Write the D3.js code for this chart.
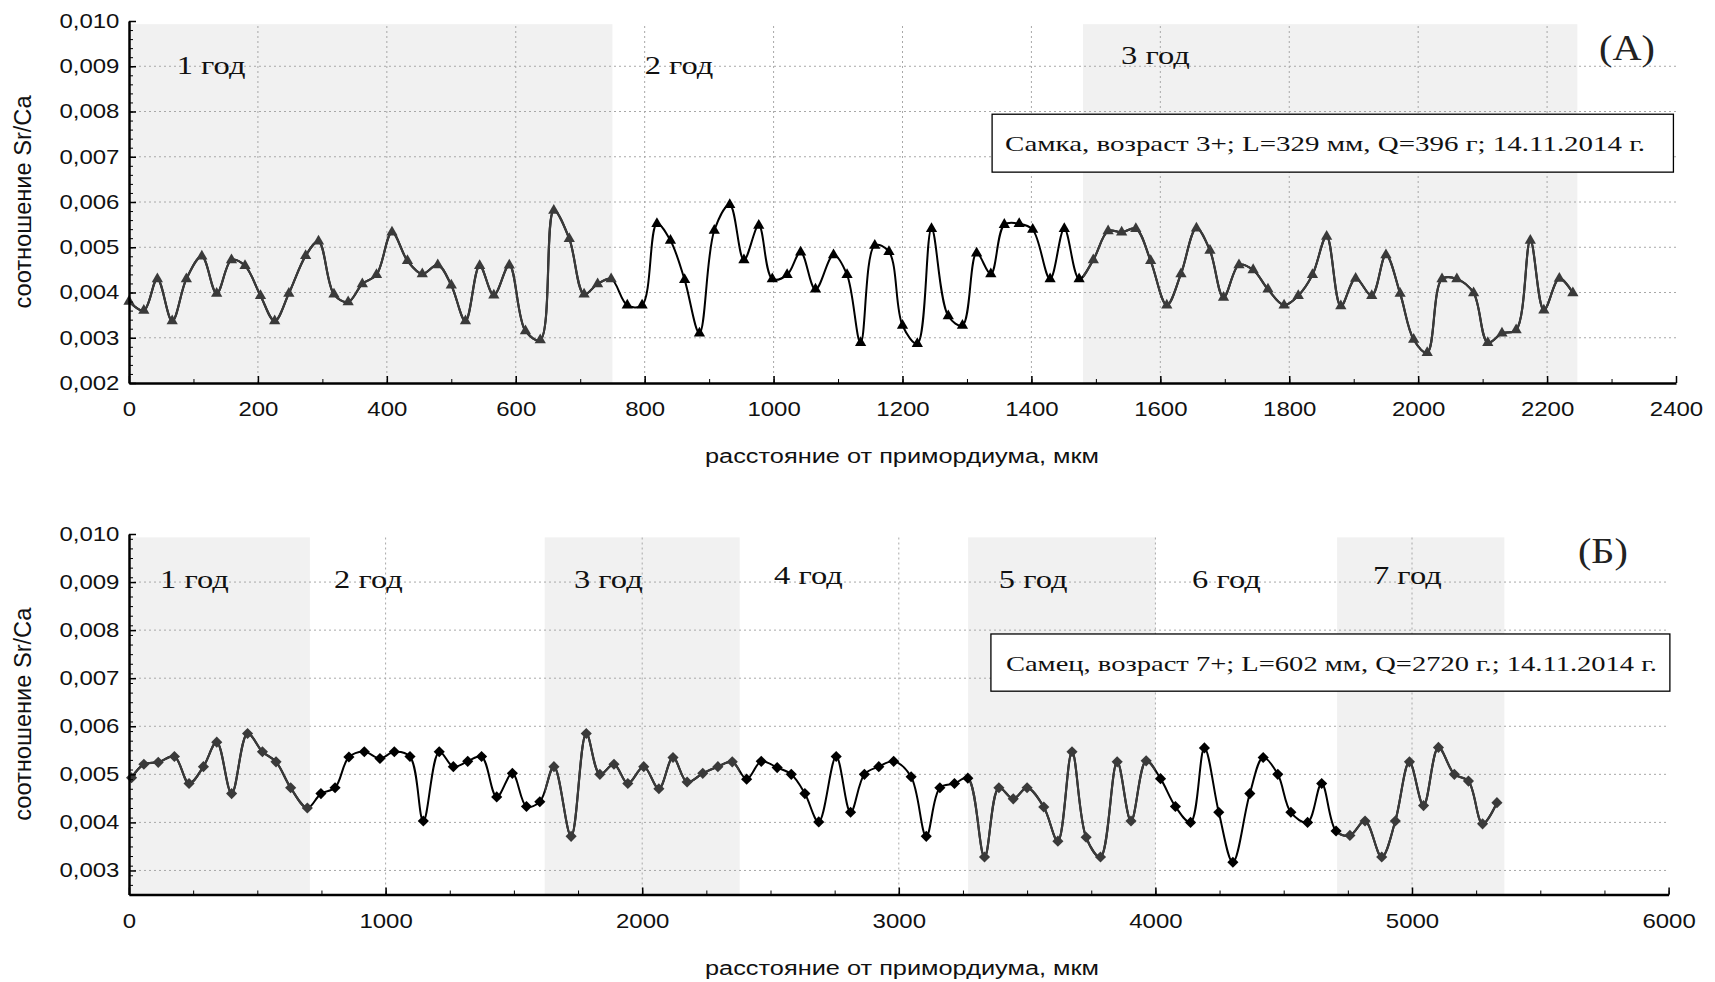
<!DOCTYPE html>
<html>
<head>
<meta charset="utf-8">
<script src="https://cdnjs.cloudflare.com/ajax/libs/d3/7.8.5/d3.min.js"></script>
<style>
  body { margin: 0; background: #fff; }
</style>
</head>
<body>
<div id="chart"></div>
<script>
// Панель А: самка 3+ — расстояние от примордиума (мкм) и Sr/Ca
const distA = [0, 23, 44, 67, 89, 113, 136, 159, 180, 204, 226, 248, 274, 294, 318, 340, 362, 384, 408, 432,
  455, 479, 500, 522, 544, 566, 590, 615, 638, 659, 683, 706, 727, 748, 773, 796, 819, 840, 862, 885,
  908, 932, 954, 977, 998, 1021, 1042, 1065, 1093, 1114, 1135, 1157, 1179, 1200, 1223, 1245, 1271, 1293, 1315, 1337,
  1358, 1381, 1402, 1429, 1451, 1474, 1496, 1519, 1540, 1562, 1585, 1610, 1632, 1656, 1677, 1698, 1722, 1744, 1767, 1792,
  1814, 1836, 1858, 1880, 1903, 1928, 1950, 1972, 1993, 2014, 2037, 2060, 2086, 2108, 2130, 2152, 2174, 2195, 2219, 2240];
const ratioA = [0.0038, 0.0036, 0.0043, 0.00337, 0.0043, 0.0048, 0.00398, 0.00472, 0.00459, 0.00393, 0.00337, 0.00398, 0.00481, 0.00513, 0.00396, 0.00379, 0.00419, 0.00439, 0.00533, 0.0047,
  0.00441, 0.00461, 0.00416, 0.00337, 0.00459, 0.00394, 0.0046, 0.00315, 0.00295, 0.00581, 0.00519, 0.00396, 0.00419, 0.0043, 0.00372, 0.00372, 0.00552, 0.00515, 0.00428, 0.0031,
  0.00537, 0.00594, 0.00472, 0.00548, 0.0043, 0.00439, 0.00489, 0.00407, 0.00483, 0.00439, 0.00289, 0.00504, 0.0049, 0.00327, 0.00287, 0.00541, 0.00348, 0.00327, 0.00487, 0.00441,
  0.0055, 0.00552, 0.00539, 0.0043, 0.00541, 0.0043, 0.00472, 0.00536, 0.00533, 0.00541, 0.0047, 0.00372, 0.00441, 0.00542, 0.00493, 0.00389, 0.00461, 0.0045, 0.00407, 0.00372,
  0.00393, 0.00439, 0.00524, 0.0037, 0.00431, 0.00393, 0.00483, 0.00398, 0.00296, 0.00267, 0.0043, 0.0043, 0.00399, 0.00289, 0.0031, 0.00317, 0.00515, 0.00361, 0.00431, 0.00399];
const yearNamesA = ["1 год", "2 год", "3 год"];
const yearFromA = [0, 750, 1480];
const yearToA = [750, 1480, 2247];
const xTicksA = [0, 200, 400, 600, 800, 1000, 1200, 1400, 1600, 1800, 2000, 2200, 2400];
const yTicksA = [0.002, 0.003, 0.004, 0.005, 0.006, 0.007, 0.008, 0.009, 0.010];
const infoA = "Самка, возраст 3+; L=329 мм, Q=396 г; 14.11.2014 г.";

// Панель Б: самец 7+
const distB = [10, 58, 114, 177, 234, 290, 342, 400, 462, 520, 573, 630, 695, 748, 803, 857, 917, 978, 1034, 1095,
  1147, 1209, 1264, 1320, 1374, 1433, 1494, 1549, 1601, 1656, 1723, 1782, 1835, 1890, 1944, 2006, 2065, 2120, 2175, 2236,
  2295, 2351, 2407, 2464, 2526, 2581, 2634, 2688, 2756, 2812, 2866, 2922, 2980, 3048, 3107, 3160, 3217, 3269, 3334, 3390,
  3446, 3500, 3565, 3620, 3675, 3730, 3786, 3851, 3905, 3964, 4020, 4078, 4137, 4191, 4247, 4302, 4368, 4420, 4477, 4528,
  4593, 4648, 4704, 4758, 4817, 4882, 4935, 4990, 5045, 5103, 5165, 5220, 5275, 5331];
const ratioB = [0.00493, 0.00521, 0.00525, 0.00537, 0.00481, 0.00516, 0.00567, 0.0046, 0.00585, 0.00547, 0.00526, 0.00472, 0.0043, 0.0046, 0.00472, 0.00536, 0.00547, 0.00533, 0.00547, 0.00537,
  0.00403, 0.00547, 0.00516, 0.00527, 0.00537, 0.00453, 0.00502, 0.00433, 0.00443, 0.00516, 0.00371, 0.00585, 0.005, 0.00521, 0.00481, 0.00516, 0.0047, 0.00535, 0.00484, 0.00502,
  0.00516, 0.00526, 0.0049, 0.00527, 0.00514, 0.005, 0.0046, 0.00401, 0.00537, 0.00421, 0.005, 0.00516, 0.00527, 0.00495, 0.00371, 0.00472, 0.00481, 0.00492, 0.00328, 0.00472,
  0.00449, 0.00472, 0.00432, 0.00361, 0.00547, 0.00369, 0.00328, 0.00526, 0.00403, 0.00528, 0.00491, 0.00433, 0.004, 0.00555, 0.00421, 0.00317, 0.0046, 0.00535, 0.005, 0.00421,
  0.004, 0.00481, 0.00382, 0.00373, 0.00403, 0.00328, 0.00403, 0.00526, 0.00435, 0.00556, 0.005, 0.00486, 0.00397, 0.00441];
const yearNamesB = ["1 год", "2 год", "3 год", "4 год", "5 год", "6 год", "7 год"];
const yearFromB = [0, 705, 1620, 2380, 3270, 4000, 4708];
const yearToB = [705, 1620, 2380, 3270, 4000, 4708, 5360];
const xTicksB = [0, 1000, 2000, 3000, 4000, 5000, 6000];
const yTicksB = [0.003, 0.004, 0.005, 0.006, 0.007, 0.008, 0.009, 0.010];
const infoB = "Самец, возраст 7+; L=602 мм, Q=2720 г.; 14.11.2014  г.";

const SANS = "'Liberation Sans', Arial, sans-serif";
const SERIF = "'Liberation Serif', 'Times New Roman', serif";
const SX = 1.2; // исходная картинка растянута по горизонтали
const fmt = d3.formatLocale({ decimal: ",", thousands: " ", grouping: [3], currency: ["", ""] }).format(".3f");

const svg = d3.select("#chart").append("svg")
  .attr("width", 1715)
  .attr("height", 982);

function drawPanel(p) {
  const x = d3.scaleLinear().domain(p.xDomain).range([p.left, p.right]);
  const y = d3.scaleLinear().domain(p.yDomain).range([p.bottom, p.top]);
  const g = svg.append("g");

  const years = p.names.map((n, i) => ({ name: n, from: p.from[i], to: p.to[i], shaded: i % 2 === 0 }));
  const shaded = years.filter(d => d.shaded);

  // серые полосы нечётных лет
  g.selectAll("rect.shade").data(shaded).join("rect")
    .attr("x", d => x(d.from))
    .attr("width", d => x(d.to) - x(d.from))
    .attr("y", y(p.shadeTop))
    .attr("height", y(p.yDomain[0]) - y(p.shadeTop))
    .attr("fill", "#f1f1f1");

  // сетка
  g.selectAll("line.gy").data(p.yTicks.filter(v => v > p.yDomain[0] + 1e-9 && v < 0.00999)).join("line")
    .attr("x1", p.left).attr("x2", p.right)
    .attr("y1", d => y(d)).attr("y2", d => y(d))
    .attr("stroke", "#a8a8a8").attr("stroke-width", 1).attr("stroke-dasharray", "2,3");
  g.selectAll("line.gx").data(p.xTicks.filter(v => v > 0 && v < p.xDomain[1])).join("line")
    .attr("x1", d => x(d)).attr("x2", d => x(d))
    .attr("y1", y(p.yDomain[0])).attr("y2", y(p.shadeTop))
    .attr("stroke", "#a8a8a8").attr("stroke-width", 1).attr("stroke-dasharray", "2,3");

  // годовые подписи
  g.selectAll("text.year").data(years).join("text")
    .attr("transform", (d, i) => `translate(${x(p.yearLabelX[i])},${y(p.yearLabelY[i])}) scale(1.25,1)`)
    .attr("font-family", SERIF).attr("font-size", 26).attr("fill", "#111")
    .text(d => d.name);

  // кривая
  const pts = p.dist.map((d, i) => ({ d, v: p.ratio[i] }));
  const line = d3.line().x(d => x(d.d)).y(d => y(d.v)).curve(d3.curveCatmullRom.alpha(0.5));
  const clipId = "clip-" + p.id;
  svg.append("clipPath").attr("id", clipId)
    .selectAll("rect").data(shaded).join("rect")
    .attr("x", d => x(d.from)).attr("width", d => x(d.to) - x(d.from))
    .attr("y", 0).attr("height", 982);

  g.append("path").datum(pts).attr("d", line)
    .attr("fill", "none").attr("stroke", "#000").attr("stroke-width", 2);
  g.append("path").datum(pts).attr("d", line)
    .attr("clip-path", `url(#${clipId})`)
    .attr("fill", "none").attr("stroke", "#3a3a3a").attr("stroke-width", 2.2);

  const inShade = v => shaded.some(s => v >= s.from && v < s.to);
  g.selectAll("path.mark").data(pts).join("path")
    .attr("transform", d => `translate(${x(d.d)},${y(d.v)}) rotate(${p.markRotate})`)
    .attr("d", d3.symbol().type(p.symbol).size(p.markSize))
    .attr("fill", d => inShade(d.d) ? "#3a3a3a" : "#000");

  // оси
  const yMinor = d3.range(p.yDomain[0], p.yDomain[1] + 1e-7, 0.0002);
  g.append("g").attr("transform", `translate(${p.left},0)`)
    .call(d3.axisLeft(y).tickValues(yMinor).tickSize(-4).tickSizeOuter(0).tickFormat(""))
    .call(a => a.select(".domain").attr("stroke-width", 2.5));
  g.append("g").attr("transform", `translate(${p.left},0)`)
    .call(d3.axisLeft(y).tickValues(p.yTicks).tickSize(-7).tickSizeOuter(0).tickPadding(8).tickFormat(fmt))
    .call(a => a.select(".domain").remove())
    .call(a => a.selectAll("line").attr("stroke-width", 1.5))
    .call(a => a.selectAll("text").attr("font-family", SANS).attr("font-size", 20).attr("fill", "#111")
      .attr("transform", `scale(${SX},1)`));

  const xMinor = d3.range(p.xDomain[0], p.xDomain[1] + 1, p.xMinorStep);
  g.append("g").attr("transform", `translate(0,${p.bottom})`)
    .call(d3.axisBottom(x).tickValues(xMinor).tickSize(-4).tickSizeOuter(0).tickFormat(""))
    .call(a => a.select(".domain").attr("stroke-width", 2.5));
  g.append("g").attr("transform", `translate(0,${p.bottom})`)
    .call(d3.axisBottom(x).tickValues(p.xTicks).tickSize(-7).tickSizeOuter(0).tickPadding(19).tickFormat(d3.format("d")))
    .call(a => a.select(".domain").remove())
    .call(a => a.selectAll("line").attr("stroke-width", 1.5))
    .call(a => a.selectAll("text").attr("font-family", SANS).attr("font-size", 20).attr("fill", "#111")
      .attr("transform", `scale(${SX},1)`));

  // подписи осей
  g.append("text")
    .attr("transform", `translate(31,${(p.top + p.bottom) / 2}) rotate(-90) scale(1.18,1.15)`)
    .attr("text-anchor", "middle").attr("font-family", SANS).attr("font-size", 20).attr("fill", "#111")
    .text("соотношение Sr/Ca");
  g.append("text")
    .attr("x", 902).attr("y", p.bottom + p.xTitleGap)
    .attr("textLength", 394).attr("lengthAdjust", "spacingAndGlyphs")
    .attr("text-anchor", "middle").attr("font-family", SANS).attr("font-size", 20).attr("fill", "#111")
    .text("расстояние от примордиума, мкм");

  // рамка с описанием рыбы
  const bx = x(p.boxX[0]), bw = x(p.boxX[1]) - bx, by = y(p.boxY[0]), bh = y(p.boxY[1]) - by;
  g.append("rect").attr("x", bx).attr("y", by).attr("width", bw).attr("height", bh)
    .attr("fill", "#fff").attr("stroke", "#000").attr("stroke-width", 1.3);
  g.append("text")
    .attr("x", bx + p.boxPad).attr("y", by + bh / 2 + 8)
    .attr("textLength", p.boxTextLen).attr("lengthAdjust", "spacingAndGlyphs")
    .attr("font-family", SERIF).attr("font-size", 22).attr("fill", "#111")
    .text(p.info);

  g.append("text")
    .attr("transform", `translate(${x(p.tagPos[0])},${y(p.tagPos[1])}) scale(1.15,1)`)
    .attr("text-anchor", "middle").attr("font-family", SERIF).attr("font-size", 35).attr("fill", "#222")
    .text(p.tag);
}

drawPanel({
  id: "a", dist: distA, ratio: ratioA, names: yearNamesA, from: yearFromA, to: yearToA,
  xDomain: [0, 2400], yDomain: [0.002, 0.010], xTicks: xTicksA, yTicks: yTicksA, xMinorStep: 100,
  left: 129, right: 1676, top: 21, bottom: 383, shadeTop: 0.00993, xTitleGap: 80,
  symbol: d3.symbolTriangle, markSize: 55, markRotate: 0,
  yearLabelX: [74, 800, 1539], yearLabelY: [0.00882, 0.00882, 0.00906],
  info: infoA, boxX: [1339, 2396], boxY: [0.00794, 0.00666], boxPad: 13, boxTextLen: 640,
  tag: "(А)", tagPos: [2324, 0.00914]
});

drawPanel({
  id: "b", dist: distB, ratio: ratioB, names: yearNamesB, from: yearFromB, to: yearToB,
  xDomain: [0, 6000], yDomain: [0.0025, 0.010], xTicks: xTicksB, yTicks: yTicksB, xMinorStep: 250,
  left: 129, right: 1668.6, top: 534, bottom: 894.5, shadeTop: 0.00993, xTitleGap: 80,
  symbol: d3.symbolSquare, markSize: 62, markRotate: 45,
  yearLabelX: [121, 799, 1734, 2514, 3390, 4143, 4848], yearLabelY: [0.00887, 0.00887, 0.00887, 0.00895, 0.00887, 0.00887, 0.00895],
  info: infoB, boxX: [3359, 6005], boxY: [0.00792, 0.00673], boxPad: 15, boxTextLen: 651,
  tag: "(Б)", tagPos: [5744, 0.0094]
});
</script>
</body>
</html>
